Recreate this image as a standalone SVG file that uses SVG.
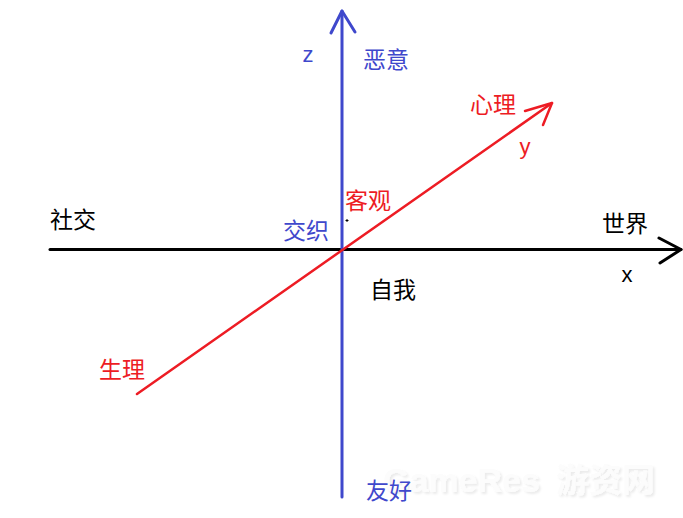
<svg xmlns="http://www.w3.org/2000/svg" width="683" height="518" viewBox="0 0 683 518">
<defs>
<filter id="shadow" x="-10%" y="-30%" width="120%" height="160%">
<feGaussianBlur in="SourceAlpha" stdDeviation="1"/>
<feOffset dx="2" dy="2" result="o"/>
<feFlood flood-color="#000" flood-opacity="0.08"/>
<feComposite in2="o" operator="in"/>
<feMerge><feMergeNode/><feMergeNode in="SourceGraphic"/></feMerge>
</filter>
</defs>
<style>
text{font-family:"Microsoft YaHei","Noto Sans CJK SC","Noto Sans",sans-serif;font-size:23px;text-anchor:middle}
.lat{font-family:"Liberation Sans","DejaVu Sans",sans-serif;font-size:22px}
.b{fill:#3f48cc}.r{fill:#ed1c24}.k{fill:#000}
.ax{fill:none;stroke-linecap:round;stroke-linejoin:round}
.wm{font-family:"Liberation Sans","Noto Sans CJK SC",sans-serif;font-weight:bold;font-size:34px;text-anchor:start;fill:#fcfcfc}
</style>
<rect width="683" height="518" fill="#fff"/>
<g id="connectors">
<g id="x-axis" class="ax" stroke="#000" stroke-width="3">
<line x1="50" y1="249.5" x2="681" y2="249.5"/>
<polyline points="659,238 681,249.5 660,263"/>
</g>
<g id="z-axis" class="ax" stroke="#3f48cc" stroke-width="3">
<line x1="342" y1="497" x2="342" y2="11"/>
<polyline points="331,33 342,11 355,32"/>
</g>
<g id="y-axis" class="ax" stroke="#ed1c24" stroke-width="2.5">
<line x1="137" y1="394" x2="552" y2="103"/>
<polyline points="525,111 552,103 543,125"/>
</g>
</g>
<g id="watermark" filter="url(#shadow)">
<text class="wm" x="383" y="492">GameRes<tspan dx="16" style="font-size:33px">游资网</tspan></text>
</g>
<g id="label-z"><text class="lat b" x="308" y="62">z</text></g>
<g id="label-eyi"><text class="b" x="386" y="68">恶意</text></g>
<g id="label-xinli"><text class="r" x="493" y="113">心理</text></g>
<g id="label-y"><text class="lat r" x="525" y="154">y</text></g>
<g id="label-keguan"><text class="r" x="368" y="209">客观</text></g>
<g id="label-shejiao"><text class="k" x="73" y="228">社交</text></g>
<g id="label-shijie"><text class="k" x="625" y="232">世界</text></g>
<g id="label-jiaozhi"><text class="b" x="306" y="239">交织</text></g>
<g id="label-x"><text class="lat k" x="627" y="282">x</text></g>
<g id="label-ziwo"><text class="k" x="393" y="298">自我</text></g>
<g id="label-shengli"><text class="r" x="122" y="378">生理</text></g>
<g id="label-youhao"><text class="b" x="389" y="499">友好</text></g>
<g id="mark"><path d="M345.5 220.5h3M347 219v3" stroke="#000" stroke-width="1"/></g>
</svg>
